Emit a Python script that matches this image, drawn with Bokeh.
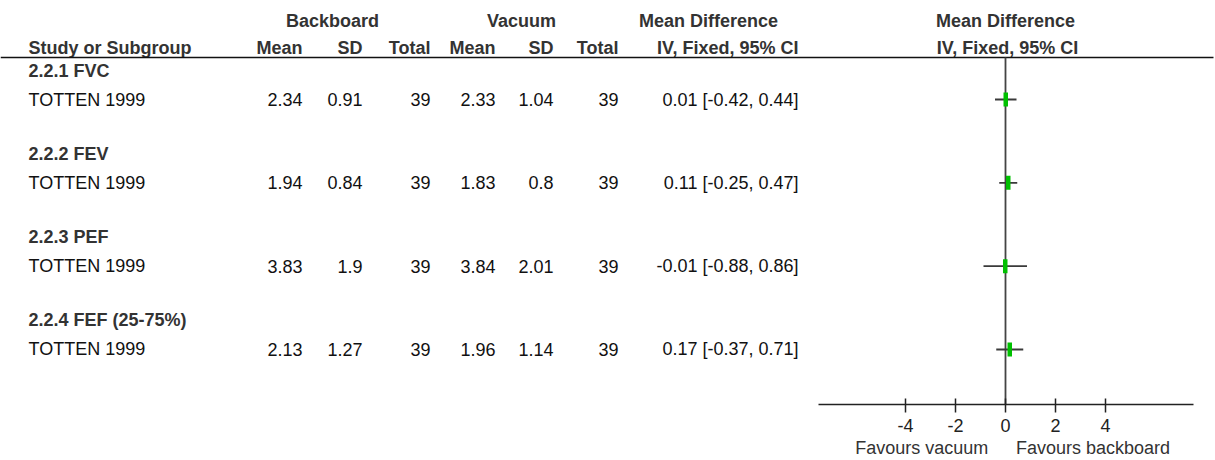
from bokeh.plotting import figure
from bokeh.models import Range1d, LinearAxis, FixedTicker, ColumnDataSource
from bokeh.core.properties import value
from bokeh.embed import file_html
from bokeh.resources import INLINE

# ---- data -------------------------------------------------------------
subgroups = ["2.2.1 FVC", "2.2.2 FEV", "2.2.3 PEF", "2.2.4 FEF (25-75%)"]
studies = ["TOTTEN 1999", "TOTTEN 1999", "TOTTEN 1999", "TOTTEN 1999"]
bb_mean = [2.34, 1.94, 3.83, 2.13]
bb_sd = [0.91, 0.84, 1.9, 1.27]
bb_total = [39, 39, 39, 39]
vac_mean = [2.33, 1.83, 3.84, 1.96]
vac_sd = [1.04, 0.8, 2.01, 1.14]
vac_total = [39, 39, 39, 39]
md = [0.01, 0.11, -0.01, 0.17]
ci_low = [-0.42, -0.25, -0.88, -0.37]
ci_high = [0.44, 0.47, 0.86, 0.71]
axis_ticks = [-4, -2, 0, 2, 4]
axis_limit = 7.5
favours = {-3.35: "Favours vacuum", 3.5: "Favours backboard"}

# ---- layout -----------------------------------------------------------
W, H = 1215, 460
FRAME_H = 404                 # forest axis sits on the bottom edge of the frame
ZERO_PX, PX_PER_UNIT = 1005, 25
FONT = value("Liberation Sans")
FS = "18px"
HEAD_COLOR = "#333333"
TEXT_COLOR = "#111111"


def px(x_pixel):
    """Horizontal canvas pixel -> mean-difference units."""
    return (x_pixel - ZERO_PX) / PX_PER_UNIT


ROW0, ROW_STEP, SUB_OFFSET = 99, 83.33, 29
row_y = [ROW0 + i * ROW_STEP for i in range(len(studies))]
sub_y = [y - SUB_OFFSET for y in row_y]

p = figure(width=W, height=H, output_backend="svg", toolbar_location=None,
           x_range=Range1d(px(0), px(W)), y_range=Range1d(FRAME_H, 0),
           x_axis_type=None, y_axis_type=None,
           min_border_left=0, min_border_right=0, min_border_top=0,
           min_border_bottom=H - FRAME_H)
p.outline_line_color = None
p.xgrid.visible = False
p.ygrid.visible = False
p.background_fill_color = "white"
p.border_fill_color = "white"


def put_text(xs, ys, texts, align="left", bold=False, color=TEXT_COLOR):
    src = ColumnDataSource(dict(x=xs, y=ys, t=texts))
    p.text(x="x", y="y", text="t", source=src, text_font=FONT, text_font_size=FS,
           text_font_style="bold" if bold else "normal", text_color=color,
           text_align=align, text_baseline="middle")


def fmt(v):
    return f"{v:g}"


# ---- header -----------------------------------------------------------
HEAD1_Y, HEAD2_Y, RULE_Y = 20, 47, 57
put_text([px(332), px(521), px(708), px(1005)], [HEAD1_Y] * 4,
         ["Backboard", "Vacuum", "Mean Difference", "Mean Difference"],
         align="center", bold=True, color=HEAD_COLOR)
put_text([px(28)], [HEAD2_Y], ["Study or Subgroup"], bold=True, color=HEAD_COLOR)

col_right = [302, 362, 430, 495, 553, 618]
col_heads = ["Mean", "SD", "Total", "Mean", "SD", "Total"]
put_text([px(c) for c in col_right], [HEAD2_Y] * 6, col_heads,
         align="right", bold=True, color=HEAD_COLOR)
put_text([px(798)], [HEAD2_Y], ["IV, Fixed, 95% CI"], align="right", bold=True, color=HEAD_COLOR)
put_text([px(1007)], [HEAD2_Y], ["IV, Fixed, 95% CI"], align="center", bold=True, color=HEAD_COLOR)

p.segment(x0=[px(0)], x1=[px(1213)], y0=[RULE_Y], y1=[RULE_Y],
          line_color="#111111", line_width=1.5)

# ---- table body -------------------------------------------------------
put_text([px(28)] * len(subgroups), sub_y, subgroups, bold=True, color=HEAD_COLOR)
put_text([px(28)] * len(studies), row_y, studies)

columns = [bb_mean, bb_sd, bb_total, vac_mean, vac_sd, vac_total]
for right, vals in zip(col_right, columns):
    put_text([px(right)] * len(vals), row_y, [fmt(v) for v in vals], align="right")

ci_text = [f"{m:.2f} [{lo:.2f}, {hi:.2f}]" for m, lo, hi in zip(md, ci_low, ci_high)]
put_text([px(798)] * len(ci_text), row_y, ci_text, align="right")

# ---- forest plot ------------------------------------------------------
p.segment(x0=[0], x1=[0], y0=[RULE_Y], y1=[FRAME_H], line_color="#444444", line_width=1.8)
p.segment(x0=ci_low, x1=ci_high, y0=row_y, y1=row_y, line_color="#3a3a3a", line_width=1.8)
p.rect(x=md, y=row_y, width=4.5, height=14, width_units="screen", height_units="screen",
       fill_color="#00c000", line_color=None)

axis = LinearAxis(ticker=FixedTicker(ticks=axis_ticks), bounds=(-axis_limit, axis_limit))
axis.axis_line_color = "#222222"
axis.axis_line_width = 1.5
axis.major_tick_line_color = "#222222"
axis.major_tick_line_width = 1.5
axis.major_tick_in = 6
axis.major_tick_out = 8
axis.minor_tick_line_color = None
axis.major_label_standoff = 6
axis.major_label_text_font = "Liberation Sans"
axis.major_label_text_font_size = FS
axis.major_label_text_color = "#222222"
axis.major_label_overrides = {t: str(t) for t in axis_ticks}
p.add_layout(axis, "below")

# second, line-less axis carrying the "favours" captions under the scale
fav_axis = LinearAxis(ticker=FixedTicker(ticks=list(favours)))
fav_axis.axis_line_color = None
fav_axis.major_tick_line_color = None
fav_axis.minor_tick_line_color = None
fav_axis.major_tick_in = 0
fav_axis.major_tick_out = 0
fav_axis.major_label_standoff = 3
fav_axis.major_label_text_font = "Liberation Sans"
fav_axis.major_label_text_font_size = FS
fav_axis.major_label_text_color = "#333333"
fav_axis.major_label_overrides = favours
p.add_layout(fav_axis, "below")

open("out.html", "w").write(file_html(p, INLINE))
